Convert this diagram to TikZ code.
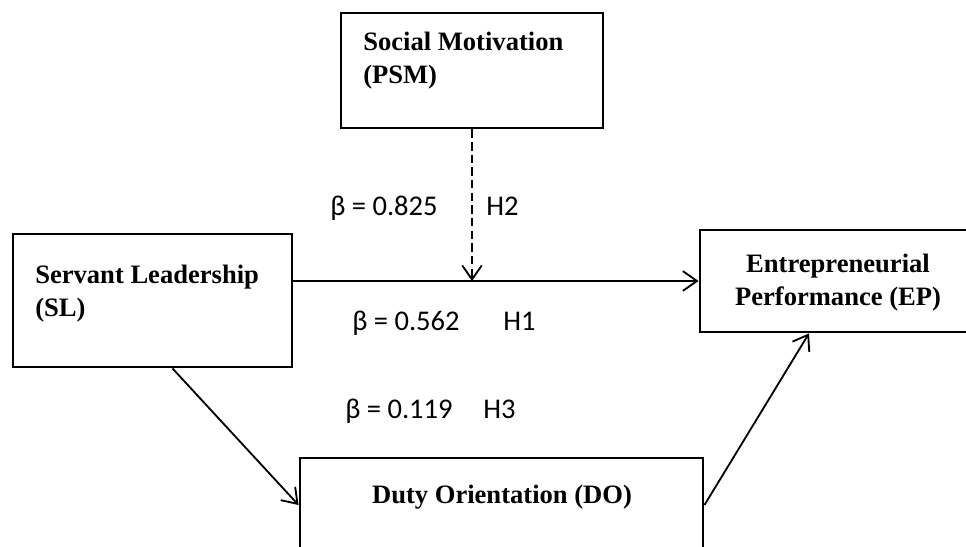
\documentclass[tikz,border=0pt]{standalone}
\usepackage{fontspec}
\setmainfont{Liberation Serif}
\newfontfamily\coeffont{Carlito}
\usetikzlibrary{arrows.meta,positioning}

\begin{document}
\begin{tikzpicture}[
    x=0.025cm, y=-0.025cm,
    >={Straight Barb[length=10pt,width=14pt]},
    construct/.style={draw, line width=2pt, inner sep=0pt},
    vartext/.style={font=\bfseries\fontsize{18.9}{23.5}\selectfont, inner sep=0pt, align=left},
    link/.style={->, line width=1.3pt},
    moderator/.style={link, dash pattern=on 6pt off 3pt},
    coef/.style={font=\coeffont\fontsize{20.3}{24}\selectfont, inner sep=0pt, anchor=base west}
]

\useasboundingbox (0,0) rectangle (966,546);
\clip (0,0) rectangle (966,546);

% Constructs
\node[construct, minimum width=6.55cm, minimum height=2.875cm] (PSM) at (472,70.5) {};
\node[construct, minimum width=6.975cm, minimum height=3.325cm] (SL) at (152.5,300.5) {};
\node[construct, minimum width=6.9cm, minimum height=2.55cm] (EP) at (838,281) {};
\node[construct, minimum width=10.075cm, minimum height=2.35cm] (DO) at (501.5,505) {};

% Construct names
\node[vartext, anchor=north west] (PSMtext) at (363,32) {Social Motivation\\(PSM)};
\node[vartext, anchor=north west] (SLtext) at (35,265) {Servant Leadership\\(SL)};
\node[vartext, anchor=north, align=center] (EPtext) at (838,254) {Entrepreneurial\\Performance (EP)};
\node[vartext, anchor=base] (DOtext) at (502,503) {Duty Orientation (DO)};

% Paths
\coordinate (meet) at (PSM.south |- EP.west);
\draw[link] (SL.east |- meet) -- (EP.west);
\draw[moderator] (PSM.south) -- (meet);
\draw[link] ([xshift=0.5cm]SL.south) -- (DO.west);
\draw[link] (DO.east) -- ([xshift=-0.725cm]EP.south);

% Coefficients and hypotheses
\node[coef] (b2) at (330,215) {β = 0.825};
\node[coef] (h2) at (486,215) {H2};
\node[coef] (b1) at (352,330) {β = 0.562};
\node[coef] (h1) at (503,330) {H1};
\node[coef] (b3) at (345,418) {β = 0.119};
\node[coef] (h3) at (483,418) {H3};

\end{tikzpicture}
\end{document}
